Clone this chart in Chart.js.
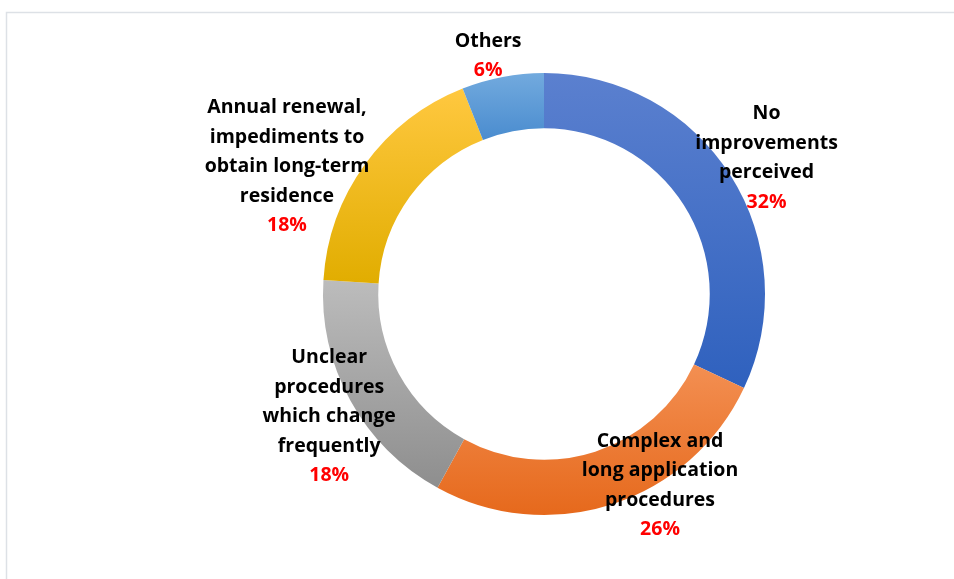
<!DOCTYPE html>
<html>
<head>
<meta charset="utf-8">
<script src="https://cdn.jsdelivr.net/npm/chart.js@4/dist/chart.umd.min.js"></script>
<style>
  html, body { margin: 0; padding: 0; background: #ffffff; }
  #wrap { position: relative; width: 954px; height: 579px; }
  canvas { display: block; }
</style>
</head>
<body>
<div id="wrap"><canvas id="c" width="954" height="579"></canvas></div>
<script>
// ---- data ----
const categories = [
  "No improvements perceived",
  "Complex and long application procedures",
  "Unclear procedures which change frequently",
  "Annual renewal, impediments to obtain long-term residence",
  "Others"
];
const values = [32, 26, 18, 18, 6];
const percentLabels = ["32%", "26%", "18%", "18%", "6%"];
const labelLines = [
  ["No", "improvements", "perceived"],
  ["Complex and", "long application", "procedures"],
  ["Unclear", "procedures", "which change", "frequently"],
  ["Annual renewal,", "impediments to", "obtain long-term", "residence"],
  ["Others"]
];

// ---- styles ----
const gradColors = [
  ["#5b80cf", "#2f61be"],
  ["#f38f52", "#e6691c"],
  ["#bcbcbc", "#8e8e8e"],
  ["#ffc840", "#e1ad00"],
  ["#72aade", "#4a8ccf"]
];
// label centres, as fractions of outer radius from the donut centre
const labelOffsets = [
  [1.007, -0.615],
  [0.525, 0.867],
  [-0.972, 0.555],
  [-1.163, -0.575],
  [-0.253, -1.078]
];
const LINE_H = 29.5;
const FONT = "bold 19.5px 'Open Sans', Lato, sans-serif";

function arcYRange(arc) {
  let minY = Infinity, maxY = -Infinity;
  const n = 60;
  for (let i = 0; i <= n; i++) {
    const a = arc.startAngle + (arc.endAngle - arc.startAngle) * i / n;
    for (const r of [arc.innerRadius, arc.outerRadius]) {
      const y = arc.y + r * Math.sin(a);
      if (y < minY) minY = y;
      if (y > maxY) maxY = y;
    }
  }
  return [minY, maxY];
}

function bg(ctx) {
  const chart = ctx.chart;
  const i = ctx.dataIndex;
  const meta = chart.getDatasetMeta(0);
  const arc = meta && meta.data ? meta.data[i] : null;
  if (!arc || !arc.outerRadius) return gradColors[i][0];
  const [y0, y1] = arcYRange(arc);
  const g = chart.ctx.createLinearGradient(0, y0, 0, y1);
  g.addColorStop(0, gradColors[i][0]);
  g.addColorStop(1, gradColors[i][1]);
  return g;
}

const framePlugin = {
  id: 'frame',
  beforeDraw(chart) {
    const c = chart.ctx;
    c.save();
    c.strokeStyle = '#dde1e6';
    c.lineWidth = 1.5;
    c.beginPath();
    c.moveTo(6.5, 600);
    c.lineTo(6.5, 12.5);
    c.lineTo(960, 12.5);
    c.stroke();
    c.restore();
  }
};

const labelPlugin = {
  id: 'labels',
  afterDatasetsDraw(chart) {
    const meta = chart.getDatasetMeta(0);
    const c = chart.ctx;
    c.save();
    c.font = FONT;
    c.textAlign = 'center';
    c.textBaseline = 'middle';
    meta.data.forEach((arc, i) => {
      const R = arc.outerRadius;
      const cx = arc.x + labelOffsets[i][0] * R;
      const cy = arc.y + labelOffsets[i][1] * R;
      const lines = labelLines[i].concat([percentLabels[i]]);
      const top = cy - (lines.length - 1) * LINE_H / 2;
      lines.forEach((t, k) => {
        c.fillStyle = (k === lines.length - 1) ? '#ff0000' : '#000000';
        c.fillText(t, cx, top + k * LINE_H);
      });
    });
    c.restore();
  }
};

const chart = new Chart(document.getElementById('c'), {
  type: 'doughnut',
  data: {
    labels: categories,
    datasets: [{
      data: values,
      backgroundColor: bg,
      borderWidth: 0,
      borderColor: '#ffffff'
    }]
  },
  options: {
    responsive: false,
    animation: false,
    cutout: '75%',
    rotation: 0,
    layout: { padding: { left: 323, right: 189, top: 73, bottom: 64 } },
    plugins: {
      legend: { display: false },
      tooltip: { enabled: false }
    }
  },
  plugins: [framePlugin, labelPlugin]
});
// second pass so the gradients can use the laid-out arcs
chart.update('none');
</script>
</body>
</html>
